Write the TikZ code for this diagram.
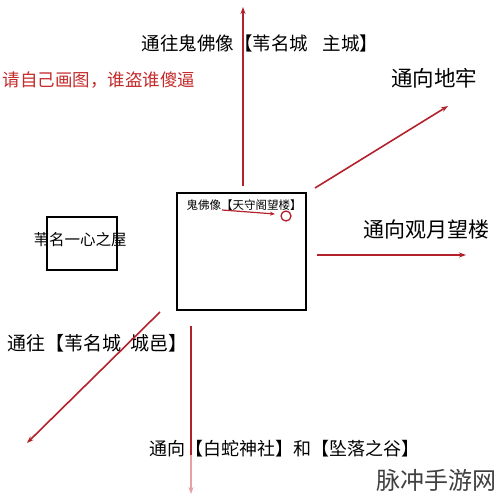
\documentclass[tikz,border=0pt]{standalone}
\usepackage{fontspec}
\setmainfont{Noto Sans CJK SC}
\usetikzlibrary{arrows.meta}
\definecolor{arrowred}{HTML}{B3222C}
\definecolor{textred}{HTML}{C42A2A}
\definecolor{fadered}{HTML}{E8A0A4}
\tikzset{
  redarrow/.style={draw=arrowred, line width=1.6pt, -{Stealth[length=7pt,width=5pt]}},
  fadearrow/.style={draw=fadered, line width=1.6pt, -{Stealth[length=7pt,width=5pt]}},
  lbl/.style={inner sep=0pt, text=black},
  roombox/.style={draw=black, line width=2.2pt},
}
\newcommand{\fs}[1]{\fontsize{#1}{#1}\selectfont}
\begin{document}
\begin{tikzpicture}[x=1pt,y=-1pt]
\useasboundingbox (0,0) rectangle (500,500);
% boxes
\node[roombox, minimum width=129pt, minimum height=117pt, inner sep=0pt] (main) at (241.5,251.5) {};
\node[roombox, minimum width=70pt, minimum height=53pt, inner sep=0pt] (small) at (82,243.5) {};
% texts
\node[lbl, font=\fs{18.5}] (ttop) at (260,43) {通往鬼佛像【苇名城\hspace{0.8em}主城】};
\node[lbl, font=\fs{17.5}, text=textred] (twarn) at (99,80) {请自己画图，谁盗谁傻逼};
\node[lbl, font=\fs{21.5}] (tdungeon) at (434,78) {通向地牢};
\node[lbl, font=\fs{21}] (tmoon) at (426,230) {通向观月望楼};
\node[lbl, font=\fs{11.5}] (tinner) at (244,205) {鬼佛像【天守阁望楼】};
\node[lbl, font=\fs{15.5}] (tsmall) at (80,240) {苇名一心之屋};
\node[lbl, font=\fs{19}] (tcastle) at (97.5,343) {通往【苇名城\hspace{0.5em}城邑】};
\node[lbl, font=\fs{18}] (tbottom) at (284,449) {通向【白蛇神社】和【坠落之谷】};
\node[lbl, font=\fs{24}, text=black!75] (wm) at (436,480) {脉冲手游网};
% arrow end points
\coordinate (upS) at (243,186);
\coordinate (upE) at (243,7);
\coordinate (neS) at (315,188);
\coordinate (neE) at (448,106);
\coordinate (eS) at (317,255);
\coordinate (eE) at (466,255);
\coordinate (swS) at (160,312);
\coordinate (swE) at (27,443);
\coordinate (dS) at (191,326);
\coordinate (dM) at (191,455);
\coordinate (dE) at (191,494);
\coordinate (inS) at (222,210);
\coordinate (inE) at (275,214);
\node[draw=arrowred, line width=1.3pt, circle, minimum size=10pt, inner sep=0pt] (ring) at (286,216) {};
% arrows
\draw[redarrow] (upS) -- (upE);
\draw[redarrow] (neS) -- (neE);
\draw[redarrow] (eS) -- (eE);
\draw[redarrow] (swS) -- (swE);
\draw[draw=arrowred, line width=1.6pt] (dS) -- (dM);
\draw[fadearrow] (dM) -- (dE);
\draw[draw=arrowred, line width=1.2pt, -{Stealth[length=5pt,width=4pt]}] (inS) -- (inE);
\end{tikzpicture}
\end{document}
